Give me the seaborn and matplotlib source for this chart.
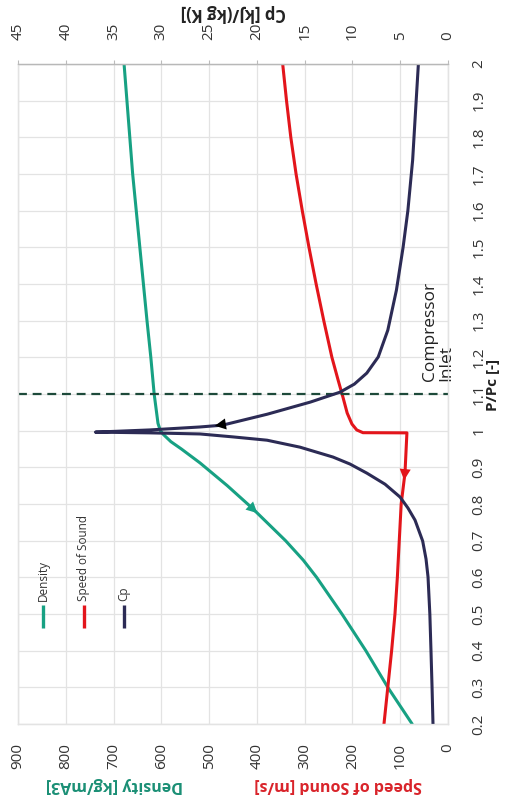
import numpy as np
import matplotlib
matplotlib.use("Agg")
import matplotlib.pyplot as plt
from matplotlib.lines import Line2D
import seaborn as sns

# Reduced pressure P/Pc and property values along the inlet isotherm
density_p = [0.2, 0.3, 0.4, 0.5, 0.6, 0.647, 0.7, 0.789, 0.85, 0.912, 0.95, 0.97,
             0.99, 1.0, 1.02, 1.05, 1.1, 1.2, 1.3, 1.5, 1.7, 2.0]
density = [75, 126, 172, 222, 275, 303, 340, 410, 462, 519, 558, 580,
           596, 602, 607, 610, 615, 622, 630, 645, 660, 678]

sos_p = [0.2, 0.3, 0.4, 0.5, 0.6, 0.7, 0.8, 0.885, 0.94, 0.994, 0.9945, 1.002,
         1.018, 1.048, 1.092, 1.138, 1.2, 1.3, 1.4, 1.5, 1.6, 1.7, 1.8, 1.9, 2.0]
sos = [134, 126, 118, 111, 106, 102, 98, 90, 88, 86, 178, 191,
       201, 211, 220, 230, 243, 260, 276, 291, 305, 318, 329, 338, 346]

cp_p = [0.2, 0.301, 0.399, 0.5, 0.601, 0.65, 0.699, 0.756, 0.789, 0.819, 0.854, 0.884,
        0.909, 0.928, 0.955, 0.974, 0.983, 0.991, 0.994, 0.996,
        1.002, 1.010, 1.015, 1.045, 1.078, 1.105, 1.127, 1.157, 1.201, 1.274,
        1.383, 1.5, 1.6, 1.738, 1.87, 2.0]
cp = [1.57, 1.67, 1.78, 1.9, 2.09, 2.3, 2.65, 3.45, 4.19, 5.02, 6.59, 8.48,
      10.26, 12.03, 15.49, 18.94, 22.5, 25.95, 31.2, 36.9,
      31.2, 26.0, 23.6, 18.9, 14.4, 11.3, 9.8, 8.5, 7.3, 6.3,
      5.4, 4.7, 4.2, 3.7, 3.4, 3.1]

inlet_p = 1.1
p_ticks = [0.2, 0.3, 0.4, 0.5, 0.6, 0.7, 0.8, 0.9, 1.0, 1.1, 1.2, 1.3, 1.4,
           1.5, 1.6, 1.7, 1.8, 1.9, 2.0]
left_ticks = [900, 800, 700, 600, 500, 400, 300, 200, 100, 0]
cp_ticks = [45, 40, 35, 30, 25, 20, 15, 10, 5, 0]

TEAL = "#17a183"
RED = "#e3151b"
NAVY = "#2c2b55"
DASH = "#1d4a3a"
GRID = "#e3e3e3"

sns.set_theme(style="white")
plt.rcParams["font.family"] = ["Open Sans", "DejaVu Sans"]

fig = plt.figure(figsize=(5.09, 8.07), dpi=100)
fig.subplots_adjust(left=18 / 509, right=448 / 509, bottom=1 - 724 / 807, top=1 - 64 / 807)
ax = fig.add_subplot(111)
ax2 = ax.twiny()

line_kw = dict(orient="y", sort=False, estimator=None, lw=2.2, legend=False)
sns.lineplot(x=density, y=density_p, ax=ax, color=TEAL, **line_kw)
sns.lineplot(x=sos, y=sos_p, ax=ax, color=RED, **line_kw)
sns.lineplot(x=cp, y=cp_p, ax=ax2, color=NAVY, **line_kw)
for ln in ax.lines + ax2.lines:
    ln.set_solid_joinstyle("round")

ax.set_xlim(900, 0)
ax2.set_xlim(45, 0)
ax.set_ylim(0.2, 2.0)

ax.axhline(inlet_p, color=DASH, lw=1.6, ls=(0, (4, 2.6)), zorder=3)
ax.text(20, 1.136, "Compressor\nInlet", rotation=90, ha="center", va="bottom",
        multialignment="left", fontsize=12.5, color="#222222", linespacing=1.05)

# Direction arrows on each curve
def arrow(axis, xs, ps, p_tip, p_tail, color):
    x_tip = np.interp(p_tip, ps, xs)
    x_tail = np.interp(p_tail, ps, xs)
    axis.annotate("", xy=(x_tip, p_tip), xytext=(x_tail, p_tail),
                  arrowprops=dict(arrowstyle="-|>", color=color, lw=0,
                                  mutation_scale=20, shrinkA=0, shrinkB=0),
                  zorder=5)

arrow(ax, density, density_p, 0.775, 0.80, TEAL)
arrow(ax, sos, sos_p, 0.865, 0.895, RED)
k = cp_p.index(0.996)
up_p = cp_p[k:]
up_cp = cp[k:]
tip_cp, tail_cp = 24.4, 22.8
p_tip = np.interp(tip_cp, up_cp[::-1], up_p[::-1])
p_tail = np.interp(tail_cp, up_cp[::-1], up_p[::-1])
ax2.annotate("", xy=(tip_cp, p_tip), xytext=(tail_cp, p_tail),
             arrowprops=dict(arrowstyle="-|>", color="black", lw=0,
                             mutation_scale=20, shrinkA=0, shrinkB=0), zorder=5)

# Axes, ticks and grid
ax.set_xticks(left_ticks)
ax.set_xticklabels([str(t) for t in left_ticks], rotation=90)
ax.set_yticks(p_ticks)
ax.set_yticklabels([f"{t:g}" for t in p_ticks], rotation=90, va="center")
ax.yaxis.tick_right()
ax.tick_params(axis="x", length=0, pad=14, labelsize=11, colors="#333333")
ax.tick_params(axis="y", length=0, pad=17, labelsize=11, colors="#333333")
ax2.set_xticks(cp_ticks)
ax2.set_xticklabels([str(t) for t in cp_ticks], rotation=90)
ax2.tick_params(axis="x", length=3, width=0.8, color="#bbbbbb", pad=14.5,
                labelsize=11, labelcolor="#333333")
ax.grid(True, color=GRID, lw=0.9)
ax2.grid(False)
for a in (ax, ax2):
    a.set_xlabel("")
    a.set_ylabel("")
    for name, sp in a.spines.items():
        sp.set_color("#b8b8b8" if name == "top" else GRID)
        sp.set_linewidth(0.9)

# Legend stacked across the plot, entries rotated
legend_items = [("Density", TEAL), ("Speed of Sound", RED), ("Cp", NAVY)]
for i, (name, col) in enumerate(legend_items):
    fx = (43 + 40.5 * i - 18) / 430
    ax.add_line(Line2D([fx, fx], [0.145, 0.180], transform=ax.transAxes,
                       color=col, lw=2.4, solid_capstyle="butt"))
    ax.text(fx, 0.186, name, transform=ax.transAxes, rotation=90,
            ha="center", va="bottom", fontsize=8.5, color="#333333")

# Axis titles
fig.text(114 / 509, 1 - 785 / 807, "Density [kg/mA3]", rotation=180, ha="center",
         va="center", color="#1a8f75", fontweight="bold", fontsize=11.5)
fig.text(338 / 509, 1 - 785 / 807, "Speed of Sound [m/s]", rotation=180, ha="center",
         va="center", color="#d9232a", fontweight="bold", fontsize=11.5)
fig.text(233 / 509, 1 - 13 / 807, "Cp [kJ/(kg K)]", rotation=180, ha="center",
         va="center", color="#222222", fontweight="bold", fontsize=12)
fig.text(493 / 509, 1 - 385 / 807, "P/Pc [-]", rotation=90, ha="center",
         va="center", color="#222222", fontweight="bold", fontsize=11)

fig.savefig("out.png", dpi=100, facecolor="white")
